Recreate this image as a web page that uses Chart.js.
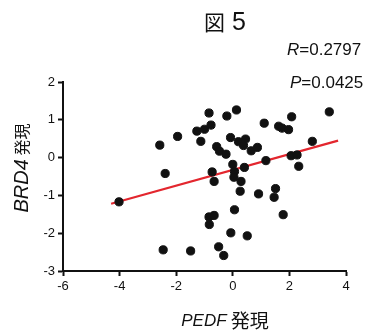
<!DOCTYPE html>
<html>
<head>
<meta charset="utf-8">
<script src="https://cdn.jsdelivr.net/npm/chart.js@4"></script>
<style>
  html, body { margin: 0; padding: 0; background: #fff; }
  #wrap { width: 368px; height: 330px; }
</style>
</head>
<body>
<div id="wrap"><canvas id="chart" width="368" height="330"></canvas></div>
<script>
"use strict";

// PEDF 発現 (x) vs BRD4 発現 (y)
const pedf = [
  -2.58, -1.95, -0.84, -0.21, 0.13, -1.27, -1.00, -0.77, -1.13, -0.08,
  0.20, 0.45, 0.38, -0.57, -0.47, -0.24, 0.65, -2.39, -0.73, 0.00,
  0.06, 0.41, -0.66, 0.04, 0.29, 1.11, 1.62, 1.74, 1.97, 2.08,
  3.41, 0.87, 2.81, 1.17, 2.06, 2.27, 2.33, 0.26, 0.06, -0.84,
  -0.66, -0.83, -0.07, 0.51, -2.46, -1.49, -0.50, -0.32, 0.91, 1.51,
  1.46, 1.78, -4.02
];
const brd4 = [
  0.33, 0.56, 1.18, 1.10, 1.26, 0.70, 0.75, 0.86, 0.43, 0.53,
  0.42, 0.49, 0.32, 0.29, 0.17, 0.09, 0.18, -0.42, -0.38, -0.18,
  -0.37, -0.26, -0.63, -0.52, -0.63, 0.91, 0.83, 0.78, 0.74, 1.08,
  1.21, 0.27, 0.43, -0.08, 0.05, 0.07, -0.23, -0.89, -1.38, -1.57,
  -1.53, -1.77, -1.99, -2.07, -2.44, -2.47, -2.36, -2.59, -0.96, -0.82,
  -1.05, -1.51, -1.17
];

// regression line ends
const fitX = [-4.3, 3.72];
const fitY = [-1.22, 0.45];

const xTicks = [-6, -4, -2, 0, 2, 4];
const yTicks = [-3, -2, -1, 0, 1, 2];

const titleText = ["図", " 5"];
const rText = ["R", "=0.2797"];
const pText = ["P", "=0.0425"];
const xTitle = ["PEDF", " 発現"];
const yTitle = ["BRD4", " 発現"];

const LATIN = '"Liberation Sans", Arial, sans-serif';
const CJK = '"Noto Sans CJK JP", "Liberation Sans", sans-serif';

// measure a two-part label: first part italic latin, second part upright
function measureParts(ctx, parts, size1, size2, second) {
  const f1 = 'italic ' + size1 + 'px ' + LATIN;
  const f2 = size2 + 'px ' + (second === 'cjk' ? CJK : LATIN);
  ctx.font = f1;
  const w1 = ctx.measureText(parts[0]).width;
  ctx.font = f2;
  const w2 = ctx.measureText(parts[1]).width;
  return { f1, f2, w1, w2, total: w1 + w2 };
}

function fillParts(ctx, parts, m, x, y) {
  ctx.font = m.f1;
  ctx.fillText(parts[0], x, y);
  ctx.font = m.f2;
  ctx.fillText(parts[1], x + m.w1, y);
}

const textPlugin = {
  id: 'texts',
  afterDraw(chart) {
    const ctx = chart.ctx;
    ctx.save();
    ctx.fillStyle = '#111';
    ctx.textBaseline = 'middle';
    ctx.textAlign = 'left';

    // title: 図 in CJK, 5 in latin
    ctx.font = '21px ' + CJK;
    const wa = ctx.measureText(titleText[0]).width;
    ctx.font = '25px ' + LATIN;
    const wb = ctx.measureText(titleText[1]).width;
    const tx = 225 - (wa + wb) / 2;
    ctx.font = '21px ' + CJK;
    ctx.fillText(titleText[0], tx, 22);
    ctx.font = '25px ' + LATIN;
    ctx.fillText(titleText[1], tx + wa, 23);

    // stats
    fillParts(ctx, rText, measureParts(ctx, rText, 17, 17, 'latin'), 287, 50);
    fillParts(ctx, pText, measureParts(ctx, pText, 17, 17, 'latin'), 290, 83);

    // x title
    let m = measureParts(ctx, xTitle, 17, 19, 'cjk');
    fillParts(ctx, xTitle, m, 225 - m.total / 2, 321);

    // y title
    ctx.translate(22, 168);
    ctx.rotate(-Math.PI / 2);
    m = measureParts(ctx, yTitle, 20, 16, 'cjk');
    fillParts(ctx, yTitle, m, -m.total / 2, 0);
    ctx.restore();
  }
};

const points = pedf.map((x, i) => ({ x: x, y: brd4[i] }));
const fitLine = fitX.map((x, i) => ({ x: x, y: fitY[i] }));

const axisCommon = {
  grid: {
    display: true,
    drawOnChartArea: false,
    drawTicks: true,
    tickLength: 5,
    tickColor: '#111',
    tickWidth: 2
  },
  border: { display: true, color: '#111', width: 2 },
  ticks: {
    color: '#111',
    font: { family: LATIN, size: 13 },
    autoSkip: false
  }
};

new Chart(document.getElementById('chart'), {
  type: 'scatter',
  data: {
    datasets: [
      {
        data: points,
        backgroundColor: '#111',
        borderColor: '#111',
        pointRadius: 4.1,
        pointHoverRadius: 4.1,
        order: 0
      },
      {
        type: 'line',
        data: fitLine,
        borderColor: '#e3262e',
        borderWidth: 2.2,
        pointRadius: 0,
        fill: false,
        order: 1
      }
    ]
  },
  options: {
    responsive: false,
    animation: false,
    layout: { padding: { top: 82, right: 22, left: 0, bottom: 0 } },
    plugins: {
      legend: { display: false },
      tooltip: { enabled: false },
      title: { display: false }
    },
    scales: {
      x: {
        ...axisCommon,
        type: 'linear',
        min: -6,
        max: 4,
        afterBuildTicks: s => { s.ticks = xTicks.map(v => ({ value: v })); },
        afterFit: s => { s.height = 59; },
        ticks: { ...axisCommon.ticks, padding: 3, maxRotation: 0 }
      },
      y: {
        ...axisCommon,
        type: 'linear',
        min: -3,
        max: 2,
        afterBuildTicks: s => { s.ticks = yTicks.map(v => ({ value: v })); },
        afterFit: s => { s.width = 63; },
        ticks: { ...axisCommon.ticks, padding: 3 }
      }
    }
  },
  plugins: [textPlugin]
});
</script>
</body>
</html>
